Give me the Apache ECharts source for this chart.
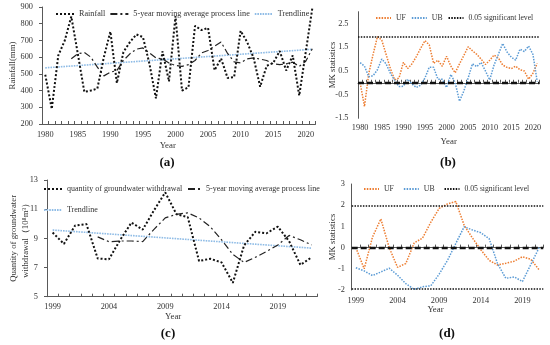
<!DOCTYPE html>
<html><head><meta charset="utf-8">
<script src="https://cdn.jsdelivr.net/npm/echarts@6/dist/echarts.min.js"></script>
<style>html,body{margin:0;padding:0;background:#fff}#c{width:550px;height:345px}</style>
</head><body><div id="c"></div>
<script>
// ---------- Panel (a): rainfall ----------
const yearsA = ['1980','1981','1982','1983','1984','1985','1986','1987','1988','1989','1990','1991','1992','1993','1994','1995','1996','1997','1998','1999','2000','2001','2002','2003','2004','2005','2006','2007','2008','2009','2010','2011','2012','2013','2014','2015','2016','2017','2018','2019','2020','2021'];
const rainfall = [495,290,610,700,843,620,392,400,412,600,753,445,630,690,736,720,560,353,635,455,845,400,420,787,762,775,522,592,475,480,758,690,595,423,548,565,637,520,610,370,630,890];
const rainMA = [null,null,null,null,590,620,628,600,540,488,510,520,580,620,648,655,625,595,590,565,550,545,555,580,625,640,665,690,622,572,566,590,596,588,580,560,555,560,570,545,575,650];
const rainTrendYears = ['1980','2021'];
const rainTrendValues = [536, 647];

// ---------- Panel (b): MK test of rainfall ----------
const ufA = [0,-1.0,0.4,1.2,1.95,1.8,1.2,0.6,0.12,0.2,0.86,0.6,0.8,1.1,1.45,1.78,1.6,0.82,0.95,0.7,1.12,0.7,0.42,0.8,1.15,1.52,1.35,1.2,1.0,0.77,0.95,1.17,1.05,0.75,0.65,0.6,0.7,0.55,0.5,0.15,0.4,0.82];
const ubA = [0.85,0.7,0.25,0.3,0.55,1.0,0.8,0.4,0.1,-0.16,-0.15,0.15,-0.05,-0.2,-0.1,0.2,0.66,0.65,0.15,0.15,-0.2,0.35,0.0,-0.78,-0.35,0.2,0.8,0.68,0.86,0.5,0.12,0.75,1.2,1.66,1.3,1.08,0.95,1.42,1.32,1.55,1.2,0.05];

// ---------- Panel (c): groundwater withdrawal ----------
const yearsC = ['1999','2000','2001','2002','2003','2004','2005','2006','2007','2008','2009','2010','2011','2012','2013','2014','2015','2016','2017','2018','2019','2020','2021','2022'];
const groundwater = [9.4,8.62,9.88,9.98,7.62,7.56,8.9,10.08,9.6,10.92,12.15,10.65,10.45,7.45,7.6,7.35,5.95,8.52,9.45,9.35,9.8,8.8,7.18,7.7];
const gwMA = [null,null,null,null,9.1,8.77,8.82,8.82,8.78,9.62,10.4,10.65,10.75,10.4,9.8,8.9,7.9,7.35,7.7,8.1,8.55,9.2,8.9,8.55];
const gwTrendYears = ['1999','2022'];
const gwTrendValues = [9.57, 8.33];

// ---------- Panel (d): MK test of groundwater ----------
const yearsD = ['1999','2000','2001','2002','2003','2004','2005','2006','2007','2008','2009','2010','2011','2012','2013','2014','2015','2016','2017','2018','2019','2020','2021'];
const ufD = [0,-1.0,0.5,1.35,0.0,-0.93,-0.75,0.22,0.45,1.2,1.85,2.06,2.17,1.05,0.45,-0.1,-0.6,-0.82,-0.74,-0.64,-0.43,-0.55,-1.05];
const ubD = [-0.95,-1.1,-1.32,-1.15,-0.97,-1.3,-1.7,-1.97,-1.85,-1.8,-1.25,-0.6,0.2,0.98,0.83,0.7,0.42,-0.75,-1.45,-1.38,-1.6,-0.8,0];

const sigLevel = 1.96;

const FONT = '"Liberation Serif","Times New Roman",serif';
const AXC = '#595959';
const TXT = '#333';
const ORANGE = '#ED7D31', BLUE = '#5B9BD5', TREND = '#8FBCE6';

function xCat(gi, data, margin, gap, padR) {
  return {
    type:'category', gridIndex:gi, data:data, boundaryGap:true,
    axisLine:{show:true, lineStyle:{color:AXC, width:1}},
    axisTick:{show:true, inside:true, length:3, interval:0, lineStyle:{color:AXC}},
    axisLabel:{interval:4, margin:margin, color:TXT, fontFamily:FONT, fontSize:8.3},
    splitLine:{show:false},
    name:'Year', nameLocation:'middle', nameGap:gap, nameMoveOverlap:false,
    nameTextStyle:{color:TXT, fontFamily:FONT, fontSize:8.8, padding:[0,padR,0,0]}
  };
}
function yVal(gi, opt) {
  return Object.assign({
    type:'value', gridIndex:gi, splitLine:{show:false},
    axisLine:{show:true, lineStyle:{color:AXC, width:1}},
    nameLocation:'middle', nameRotate:90, nameMoveOverlap:false,
    nameTextStyle:{color:TXT, fontFamily:FONT, fontSize:8.8}
  }, opt);
}
const lblStyle = (m) => ({color:TXT, fontFamily:FONT, fontSize:8.3, margin:m});

const blackDot = {color:'#111', width:2, type:[2,2]};
const dashDot = {color:'#222', width:1.2, type:[7,3,2,3]};
const trendSt = {color:TREND, width:1.6, type:[1.6,1]};
const ufSt = {color:ORANGE, width:1.5, type:[1.5,1.3]};
const ubSt = {color:BLUE, width:1.5, type:[1.5,1.3]};
const sigSt = {color:'#111', width:1.5, type:[1.5,1.3]};
const zeroSt = {color:'#111', width:2.4, type:[6,3]};

function line(name, xi, data, ls, extra) {
  return Object.assign({
    name:name, type:'line', xAxisIndex:xi, yAxisIndex:xi, data:data,
    symbol:'none', showSymbol:false, lineStyle:ls, itemStyle:{color:ls.color},
    connectNulls:false, animation:false, silent:true
  }, extra||{});
}
function sigSeries(xi, levels) {
  const ml = levels.map(v => ({yAxis:v, lineStyle:v === 0 ? zeroSt : sigSt}));
  return line('0.05 significant level', xi, [], sigSt, {
    markLine:{symbol:['none','none'], silent:true, animation:false, label:{show:false}, data:ml}
  });
}
function leg(names, left, top, w, gap, fs) {
  return {data:names, left:left, top:top, itemWidth:w, itemGap:gap, itemHeight:8,
    selectedMode:false, padding:0,
    itemStyle:{color:'rgba(0,0,0,0)', borderColor:'rgba(0,0,0,0)', borderWidth:0, opacity:0},
    textStyle:{color:TXT, fontFamily:FONT, fontSize:fs}};
}

const option = {
  backgroundColor:'#fff',
  animation:false,
  grid:[
    {left:37, top:7, width:278.5, height:117},
    {left:358, top:11.7, width:181.4, height:106.6},
    {left:37.3, top:180, width:280, height:116.7},
    {left:351.7, top:184, width:191.6, height:106}
  ],
  xAxis:[
    xCat(0, yearsA, 7, 17, 22),
    xCat(1, yearsA, 5.5, 18.5, 0),
    xCat(2, yearsC, 6.5, 15.5, 18),
    xCat(3, yearsD, 6.5, 15.5, 24)
  ],
  yAxis:[
    yVal(0, {min:200, max:900, interval:100, axisTick:{show:true, length:3, lineStyle:{color:AXC}},
      axisLabel:lblStyle(9), name:'Rainfall(mm)', nameGap:25}),
    yVal(1, {min:-1.5, max:3, interval:0.5, axisTick:{show:false},
      axisLabel:Object.assign(lblStyle(9.5), {formatter:function(v){
        const r = Math.abs(((v + 1.5) % 1 + 1) % 1);
        return (r < 1e-6 || r > 1 - 1e-6) ? String(v) : '';
      }}),
      name:'MK statistics', nameGap:21}),
    yVal(2, {min:5, max:13, interval:2, axisTick:{show:true, length:3, lineStyle:{color:AXC}},
      axisLabel:lblStyle(9), name:'Quantity of groundwater\nwithdrawal（10⁸m³）', nameGap:15,
      nameTextStyle:{color:TXT, fontFamily:FONT, fontSize:8.8, lineHeight:12}}),
    yVal(3, {min:-2, max:3, interval:1, axisTick:{show:false},
      axisLabel:lblStyle(6.7), name:'MK statistics', nameGap:14.5})
  ],
  legend:[
    leg(['Rainfall','5-year moving average process line','Trendline'], 55, 10, 18, 4, 8.2),
    leg(['UF','UB','0.05 significant level'], 375, 14, 15, 5, 7.7),
    leg(['quantity of groundwater withdrawal'], 43, 185, 18, 0, 8),
    leg(['5-year moving average process line'], 187, 185, 13, 0, 8),
    leg(['Trendline'], 43, 206, 18, 0, 8),
    leg(['UF','UB','0.05 significant level'], 363, 185, 15, 9, 7.7)
  ],
  series:[
    line('Trendline', 0, rainTrendYears.map((y,i)=>[y, rainTrendValues[i]]), trendSt),
    line('5-year moving average process line', 0, rainMA, dashDot),
    line('Rainfall', 0, rainfall, blackDot),

    sigSeries(1, [sigLevel, 0]),
    line('UF', 1, ufA, ufSt),
    line('UB', 1, ubA, ubSt),

    line('Trendline', 2, gwTrendYears.map((y,i)=>[y, gwTrendValues[i]]), trendSt),
    line('5-year moving average process line', 2, gwMA, dashDot),
    line('quantity of groundwater withdrawal', 2, groundwater, blackDot),

    sigSeries(3, [sigLevel, 0, -sigLevel]),
    line('UF', 3, ufD, ufSt),
    line('UB', 3, ubD, ubSt)
  ],
  graphic:[
    {type:'text', x:167, y:163, style:{text:'(a)', font:'bold 13px "Liberation Serif"', fill:'#111', align:'center', verticalAlign:'middle'}},
    {type:'text', x:448, y:163, style:{text:'(b)', font:'bold 13px "Liberation Serif"', fill:'#111', align:'center', verticalAlign:'middle'}},
    {type:'text', x:168, y:334, style:{text:'(c)', font:'bold 13px "Liberation Serif"', fill:'#111', align:'center', verticalAlign:'middle'}},
    {type:'text', x:447, y:334, style:{text:'(d)', font:'bold 13px "Liberation Serif"', fill:'#111', align:'center', verticalAlign:'middle'}}
  ]
};
const chart = echarts.init(document.getElementById('c'), null, {renderer:'canvas'});
chart.setOption(option);
</script></body></html>
